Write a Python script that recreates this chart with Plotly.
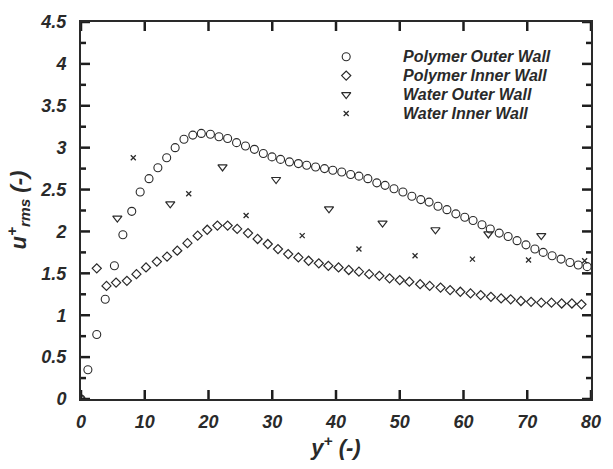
import plotly.graph_objects as go

# Polymer outer wall profile
po_x = [0, 1.08, 2.47, 3.8, 5.24, 6.57, 7.96, 9.28, 10.67, 12.06, 13.44, 14.77, 16.15,
        17.54, 18.87, 20.3, 21.64, 23.0, 24.4, 25.8, 27.2, 28.6, 29.96, 31.3, 32.7, 34.1,
        35.4, 36.8, 38.2, 39.5, 40.9, 42.3, 43.6, 45.0, 46.4, 47.7, 49.1, 50.5, 51.9, 53.3,
        54.6, 56.0, 57.4, 58.8, 60.2, 61.5, 62.9, 64.2, 65.6, 67.0, 68.4, 69.8, 71.2, 72.5,
        73.9, 75.3, 76.7, 78.0, 79.4]
po_y = [0, 0.35, 0.77, 1.19, 1.59, 1.96, 2.24, 2.47, 2.63, 2.76, 2.88, 3.00, 3.10,
        3.15, 3.17, 3.16, 3.13, 3.11, 3.06, 3.02, 2.98, 2.93, 2.89, 2.86, 2.83, 2.81,
        2.79, 2.77, 2.75, 2.73, 2.71, 2.68, 2.66, 2.63, 2.58, 2.55, 2.51, 2.47, 2.42, 2.38,
        2.35, 2.30, 2.26, 2.21, 2.17, 2.13, 2.08, 2.03, 1.98, 1.94, 1.89, 1.84, 1.79, 1.75,
        1.71, 1.67, 1.63, 1.60, 1.58]

# Polymer inner wall profile
pi_x = [0, 2.47, 4.0, 5.5, 7.2, 8.7, 10.2, 11.9, 13.5, 15.1, 16.7, 18.3, 19.8, 21.4,
        23.0, 24.5, 26.2, 27.7, 29.3, 30.9, 32.5, 34.1, 35.7, 37.3, 38.8, 40.4, 42.0,
        43.6, 45.2, 46.8, 48.4, 50.0, 51.5, 53.2, 54.7, 56.4, 57.9, 59.5, 61.1, 62.7,
        64.3, 65.9, 67.4, 69.0, 70.6, 72.2, 73.8, 75.4, 77.0, 78.5]
pi_y = [0, 1.56, 1.35, 1.39, 1.41, 1.49, 1.57, 1.64, 1.70, 1.77, 1.86, 1.95, 2.02, 2.07,
        2.07, 2.03, 1.98, 1.91, 1.85, 1.79, 1.73, 1.69, 1.65, 1.62, 1.59, 1.57, 1.54,
        1.52, 1.49, 1.47, 1.44, 1.42, 1.40, 1.37, 1.35, 1.33, 1.30, 1.28, 1.26, 1.24,
        1.22, 1.20, 1.19, 1.17, 1.16, 1.15, 1.15, 1.14, 1.14, 1.13]

# Water outer wall
wo_x = [5.7, 14.0, 22.2, 30.6, 38.9, 47.3, 55.6, 63.9, 72.2]
wo_y = [2.16, 2.33, 2.77, 2.62, 2.27, 2.10, 2.02, 1.97, 1.95]

# Water inner wall
wi_x = [8.2, 16.9, 25.9, 34.7, 43.6, 52.4, 61.4, 70.2, 79.0]
wi_y = [2.88, 2.45, 2.19, 1.95, 1.79, 1.71, 1.67, 1.66, 1.65]

series_names = ["Polymer Outer Wall", "Polymer Inner Wall", "Water Outer Wall", "Water Inner Wall"]
x_ticks = [0, 10, 20, 30, 40, 50, 60, 70, 80]
y_ticks = [0, 0.5, 1, 1.5, 2, 2.5, 3, 3.5, 4, 4.5]
y_minor_ticks = [0.25, 0.75, 1.25, 1.75, 2.25, 2.75, 3.25, 3.75, 4.25]
y_tick_text = ["0", "0.5", "1", "1.5", "2", "2.5", "3", "3.5", "4", "4.5"]
x_range = [0, 80]
y_range = [0, 4.5]

ink = "#2a2a2a"
font_family = "Liberation Sans, Arial, sans-serif"

marker_styles = [
    dict(symbol="circle-open", size=8, color=ink, line=dict(width=1.1, color=ink)),
    dict(symbol="diamond-open", size=7, color=ink, line=dict(width=1.2, color=ink)),
    dict(symbol="triangle-down-open", size=8, color=ink, line=dict(width=1.2, color=ink)),
    dict(symbol="x-thin-open", size=5, color=ink, line=dict(width=1.3, color=ink)),
]

fig = go.Figure()
for name, xs, ys, mk in zip(series_names, [po_x, pi_x, wo_x, wi_x],
                            [po_y, pi_y, wo_y, wi_y], marker_styles):
    fig.add_trace(go.Scatter(x=xs, y=ys, mode="markers", name=name, marker=mk,
                             showlegend=False))

# Compact key: symbols on an overlay unit axis, labels as annotations
key_sym_x = 0.52
key_txt_x = 0.627
key_y0, key_dy = 0.908, 0.0502
for i, (name, mk) in enumerate(zip(series_names, marker_styles)):
    ky = key_y0 - i * key_dy
    fig.add_trace(go.Scatter(x=[key_sym_x], y=[ky], mode="markers", marker=mk,
                             xaxis="x2", yaxis="y2", showlegend=False, hoverinfo="skip"))
    fig.add_annotation(x=key_txt_x, y=ky, xref="paper", yref="paper", text=name,
                       showarrow=False, xanchor="left", yanchor="middle",
                       font=dict(family=font_family, size=16, color=ink,
                                 weight="bold", style="italic"))

# Inward tick marks on all four sides, placed through the axis scales
tick_line = dict(color="#1e1e1e", width=2.5)
for tv in x_ticks:
    for edge, sign in ((0, 1), (1, -1)):
        fig.add_shape(type="line", xref="x", yref="paper", ysizemode="pixel",
                      yanchor=edge, x0=tv, x1=tv, y0=0, y1=9 * sign, line=tick_line,
                      layer="above")
for ticks, length in ((y_ticks, 9), (y_minor_ticks, 5)):
    for tv in ticks:
        for edge, sign in ((0, 1), (1, -1)):
            fig.add_shape(type="line", yref="y", xref="paper", xsizemode="pixel",
                          xanchor=edge, y0=tv, y1=tv, x0=0, x1=length * sign,
                          line=tick_line, layer="above")

tick_font = dict(family=font_family, size=18, color=ink, weight="bold", style="italic")
title_font = dict(family=font_family, size=22, color=ink, weight="bold", style="italic")

fig.add_annotation(x=0, y=0.5, xref="paper", yref="paper", xshift=-63,
                   text="u<sup>+</sup><sub>rms</sub> (-)", textangle=-90, showarrow=False,
                   xanchor="center", yanchor="middle", font=title_font)

fig.update_layout(
    width=613, height=469,
    margin=dict(l=81, r=13, t=13, b=70),
    paper_bgcolor="white", plot_bgcolor="white",
    xaxis=dict(range=x_range, tickmode="array", tickvals=x_ticks, ticks="",
               showline=True, linewidth=2, linecolor=ink, mirror=True,
               showgrid=False, zeroline=False, tickfont=tick_font, ticklabelstandoff=5,
               title=dict(text="y<sup>+</sup> (-)", font=title_font, standoff=3)),
    yaxis=dict(range=y_range, tickmode="array", tickvals=y_ticks, ticktext=y_tick_text,
               ticks="", showline=True, linewidth=2, linecolor=ink, mirror=True,
               showgrid=False, zeroline=False, tickfont=tick_font, ticklabelstandoff=9),
    xaxis2=dict(range=[0, 1], overlaying="x", visible=False, fixedrange=True),
    yaxis2=dict(range=[0, 1], overlaying="y", visible=False, fixedrange=True),
)

fig.write_html("out.html")
